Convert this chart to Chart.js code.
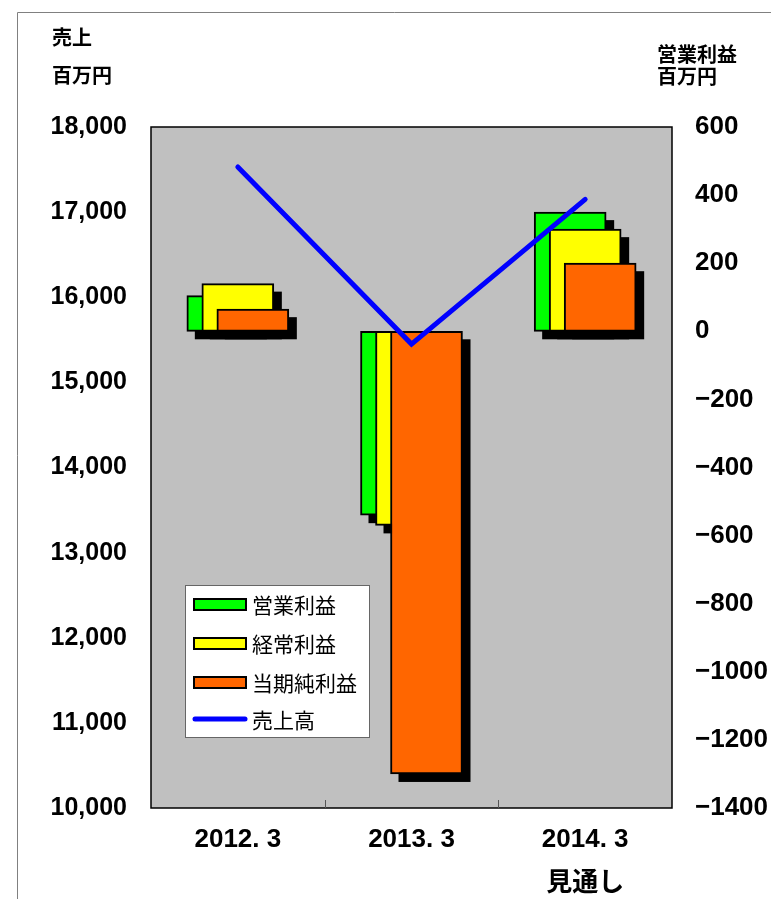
<!DOCTYPE html>
<html>
<head>
<meta charset="utf-8">
<script src="https://cdn.jsdelivr.net/npm/chart.js@4/dist/chart.umd.min.js"></script>
<style>
  html, body { margin: 0; padding: 0; background: #fff; }
  #wrap { width: 771px; height: 899px; position: relative; }
</style>
</head>
<body>
<div id="wrap"><canvas id="c" width="771" height="899"></canvas></div>
<script>
// Fiscal years (last one is a forecast)
const categories = [['2012. 3'], ['2013. 3'], ['2014. 3', '見通し']];

// 売上高 (left axis, 百万円)
const sales = [17530, 15450, 17150];

// Profits (right axis, 百万円)
const operatingProfit = [105, -540, 350];   // 営業利益
const ordinaryProfit  = [140, -570, 300];   // 経常利益
const netProfit       = [65, -1300, 200];   // 当期純利益

const seriesNames = ['営業利益', '経常利益', '当期純利益', '売上高'];

// Left axis ticks
const salesMin = 10000, salesMax = 18000, salesStep = 1000;
// Right axis ticks
const profitMin = -1400, profitMax = 600, profitStep = 200;

const CJK = '"Noto Sans CJK JP", "Liberation Sans", sans-serif';
const NUM = '"Liberation Sans", "Noto Sans CJK JP", sans-serif';

// overlapping bars are staggered sideways within each year
const SHIFT = 0.0864;
function at(values, shift) {
  return values.map((v, i) => ({ x: i + 1 + shift, y: v }));
}

// black drop shadow painted under each bar, from the bar elements' geometry
const barShadow = {
  id: 'barShadow',
  beforeDatasetDraw(chart, args) {
    if (args.meta.type !== 'bar') return;
    const ctx = chart.ctx;
    ctx.save();
    ctx.fillStyle = '#000';
    args.meta.data.forEach(el => {
      const p = el.getProps(['x', 'y', 'base', 'width'], true);
      const top = Math.min(p.y, p.base);
      const h = Math.abs(p.base - p.y);
      ctx.fillRect(p.x - p.width / 2 + 8, top + 8, p.width, h);
    });
    ctx.restore();
  }
};

// plot background, frame, unit captions, boundary ticks and legend
const decor = {
  id: 'decor',
  beforeDraw(chart) {
    const { ctx, chartArea: a } = chart;
    ctx.save();
    // outer frame lines
    ctx.strokeStyle = '#808080';
    ctx.lineWidth = 1;
    ctx.beginPath();
    ctx.moveTo(17.5, 899);
    ctx.lineTo(17.5, 12.5);
    ctx.lineTo(771, 12.5);
    ctx.stroke();
    // plot background
    ctx.fillStyle = '#c0c0c0';
    ctx.fillRect(a.left, a.top, a.right - a.left, a.bottom - a.top);
    ctx.restore();
  },
  afterDatasetsDraw(chart) {
    const { ctx, chartArea: a, scales } = chart;
    ctx.save();
    // plot border
    ctx.strokeStyle = '#000';
    ctx.lineWidth = 1.5;
    ctx.strokeRect(a.left, a.top, a.right - a.left, a.bottom - a.top);
    // short marks between the years
    ctx.lineWidth = 1;
    ctx.strokeStyle = '#555';
    for (let i = 1; i < categories.length; i++) {
      const px = Math.round(scales.x.getPixelForValue(i + 0.5)) + 0.5;
      ctx.beginPath();
      ctx.moveTo(px, a.bottom);
      ctx.lineTo(px, a.bottom - 8);
      ctx.stroke();
    }

    // unit captions
    ctx.fillStyle = '#000';
    ctx.textBaseline = 'middle';
    ctx.textAlign = 'left';
    ctx.font = 'bold 20px ' + CJK;
    ctx.fillText('売上', 52, 37);
    ctx.fillText('百万円', 52, 75);
    ctx.fillText('営業利益', 657, 54);
    ctx.fillText('百万円', 657, 76);

    // legend
    const lx = 185.5, ly = 585.5, lw = 184, lh = 152;
    ctx.fillStyle = '#fff';
    ctx.fillRect(lx, ly, lw, lh);
    ctx.strokeStyle = '#666';
    ctx.lineWidth = 1;
    ctx.strokeRect(lx, ly, lw, lh);
    const rows = [604, 643, 682, 719];
    const ds = chart.data.datasets;
    ctx.font = '21px ' + CJK;
    rows.forEach((ry, i) => {
      const d = ds[i];
      if (d.type === 'line') {
        ctx.strokeStyle = d.borderColor;
        ctx.lineWidth = 5;
        ctx.lineCap = 'round';
        ctx.beginPath();
        ctx.moveTo(195, ry);
        ctx.lineTo(245, ry);
        ctx.stroke();
      } else {
        ctx.fillStyle = '#000';
        ctx.fillRect(193, ry - 6, 54, 13);
        ctx.fillStyle = d.backgroundColor;
        ctx.fillRect(195, ry - 4, 50, 9);
      }
      ctx.fillStyle = '#000';
      ctx.fillText(d.label, 252, ry + 1);
    });
    ctx.restore();
  }
};

const barCommon = {
  type: 'bar',
  yAxisID: 'y1',
  xAxisID: 'x',
  grouped: false,
  barThickness: 72,
  borderColor: '#000',
  borderWidth: 2,
  borderSkipped: false
};

new Chart(document.getElementById('c'), {
  data: {
    datasets: [
      Object.assign({}, barCommon, {
        label: seriesNames[0], data: at(operatingProfit, -SHIFT),
        backgroundColor: '#00ff00', order: 4
      }),
      Object.assign({}, barCommon, {
        label: seriesNames[1], data: at(ordinaryProfit, 0),
        backgroundColor: '#ffff00', order: 3
      }),
      Object.assign({}, barCommon, {
        label: seriesNames[2], data: at(netProfit, SHIFT),
        backgroundColor: '#ff6600', order: 2
      }),
      {
        type: 'line', label: seriesNames[3], data: at(sales, 0),
        yAxisID: 'y', xAxisID: 'x',
        borderColor: '#0000ff', backgroundColor: '#0000ff',
        borderWidth: 5, pointRadius: 0, tension: 0,
        borderCapStyle: 'round', borderJoinStyle: 'miter',
        order: 1
      }
    ]
  },
  options: {
    responsive: false,
    animation: false,
    layout: { padding: { top: 127, left: 0, right: 0, bottom: 0 } },
    plugins: { legend: { display: false }, tooltip: { enabled: false } },
    scales: {
      x: {
        type: 'linear',
        position: 'bottom',
        offset: false,
        bounds: 'data',
        min: 0.5,
        max: categories.length + 0.5,
        grid: { display: false, drawTicks: false, offset: false },
        border: { display: false },
        afterBuildTicks: s => { s.ticks = categories.map((c, i) => ({ value: i + 1 })); },
        afterFit: s => { s.height = 91; },
        ticks: {
          color: '#000',
          padding: 10,
          maxRotation: 0,
          autoSkip: false,
          font: { family: NUM, size: 26, weight: 'bold', lineHeight: 1.7 },
          callback: v => categories[v - 1] || ''
        }
      },
      y: {
        position: 'left',
        min: salesMin, max: salesMax,
        grid: { display: false, drawTicks: false },
        border: { display: false },
        afterFit: s => { s.width = 151; },
        ticks: {
          stepSize: salesStep,
          color: '#000',
          padding: 24,
          font: { family: NUM, size: 25, weight: 'bold' },
          callback: v => v.toLocaleString('en-US')
        }
      },
      y1: {
        position: 'right',
        min: profitMin, max: profitMax,
        grid: { display: false, drawTicks: false },
        border: { display: false },
        afterFit: s => { s.width = 99; },
        ticks: {
          stepSize: profitStep,
          color: '#000',
          padding: 23,
          font: { family: NUM, size: 26, weight: 'bold' },
          callback: v => String(v).replace('-', '\u2212')
        }
      }
    }
  },
  plugins: [barShadow, decor]
});
</script>
</body>
</html>
